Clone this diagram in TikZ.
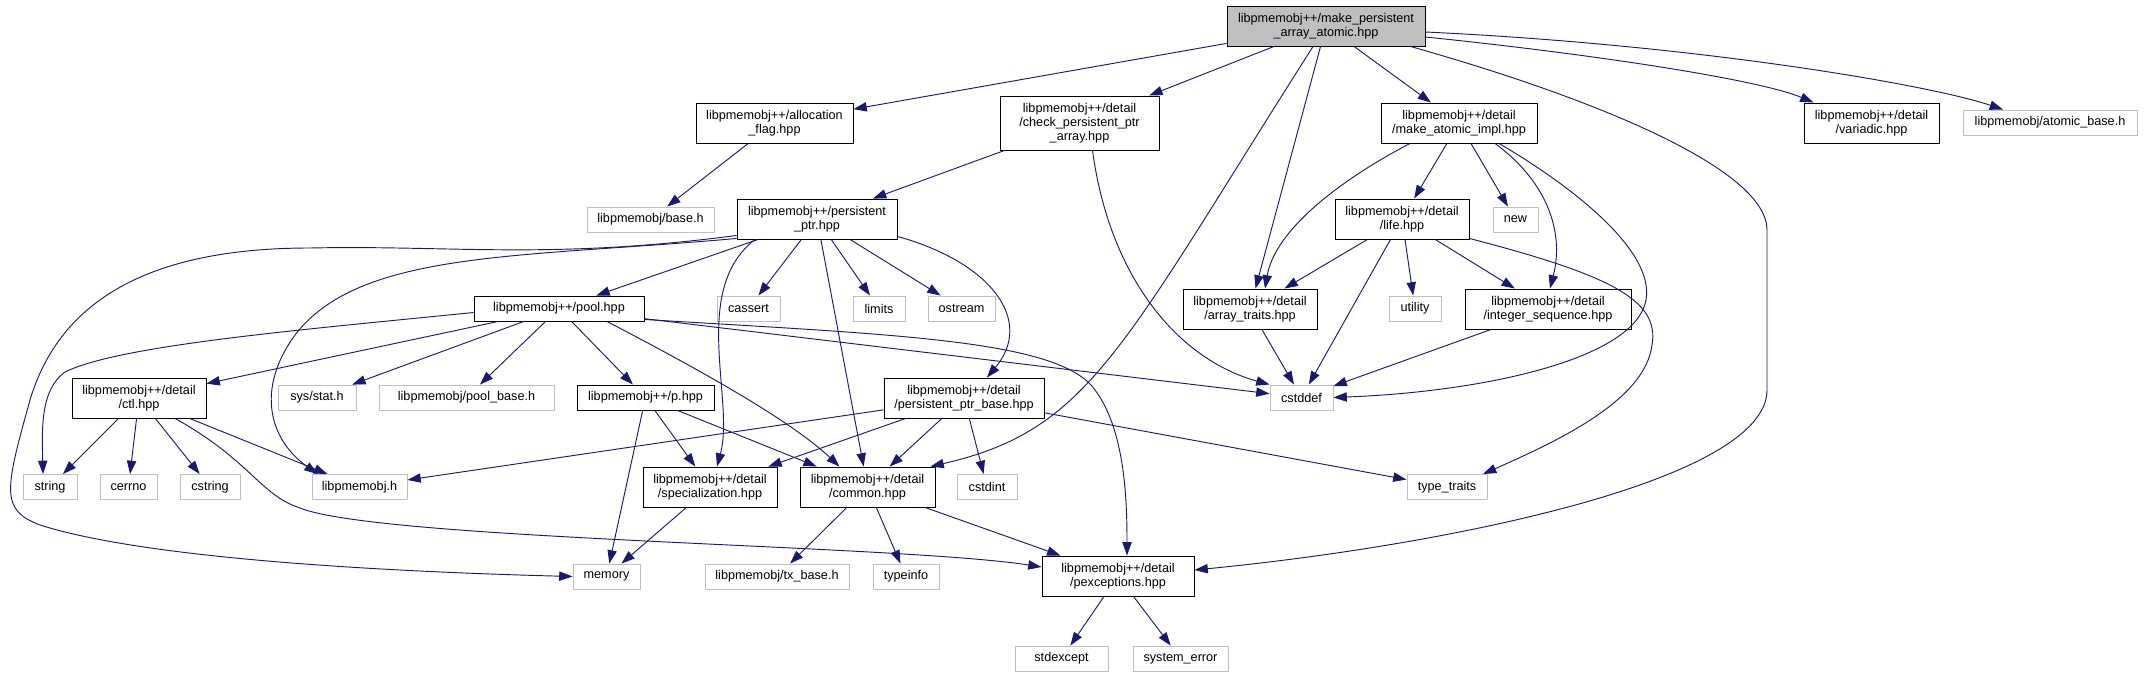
\documentclass[tikz,border=0pt]{standalone}
\usepackage{fontspec}
\setmainfont{Liberation Sans}
\usepackage{tikz}
\usetikzlibrary{calc, arrows.meta}
\usepackage{xcolor}
\definecolor{edgeblue}{RGB}{25, 25, 112}
\definecolor{extgray}{RGB}{191, 191, 191}

\tikzset{
  hfile/.style={rectangle, draw=black, fill=white, line width=0.7pt, inner sep=0pt,
    align=center, minimum height=18.75pt},
  sysfile/.style={hfile, draw=extgray},
  mainfile/.style={hfile, fill=extgray},
  l2/.style={minimum height=30pt},
  l3/.style={minimum height=40.5pt},
  bw/.style={minimum width=#1*0.75pt},
  dep/.style={->, draw=edgeblue, line width=0.7pt}
}

\begin{document}
\begin{tikzpicture}[x=0.75pt, y=-0.75pt, font=\fontsize{9.5}{10.7}\selectfont,
    >={Triangle[length=10pt, width=7pt]}]
  \useasboundingbox (0,0) rectangle (2154,677);

  % Row 0
  \node[mainfile, l2, bw=198] (root) at (1326,26) {libpmemobj++/make\_persistent\\\_array\_atomic.hpp};

  % Row 1
  \node[hfile, l2, bw=157] (alloc) at (774.5,123) {libpmemobj++/allocation\\\_flag.hpp};
  \node[hfile, l3, bw=159] (check) at (1079.5,123) {libpmemobj++/detail\\/check\_persistent\_ptr\\\_array.hpp};
  \node[hfile, l2, bw=156] (mkimpl) at (1459,123) {libpmemobj++/detail\\/make\_atomic\_impl.hpp};
  \node[hfile, l2, bw=135] (variadic) at (1871.5,123) {libpmemobj++/detail\\/variadic.hpp};
  \node[sysfile, bw=174] (atomicbase) at (2050,122.5) {libpmemobj/atomic\_base.h};

  % Row 2
  \node[sysfile, bw=127] (baseh) at (650.5,219.5) {libpmemobj/base.h};
  \node[hfile, l2, bw=160] (pptr) at (817,219) {libpmemobj++/persistent\\\_ptr.hpp};
  \node[hfile, l2, bw=134] (life) at (1402,219) {libpmemobj++/detail\\/life.hpp};
  \node[sysfile, bw=45] (new) at (1515.5,219.5) {new};

  % Row 3
  \node[hfile, bw=170] (pool) at (559,308.5) {libpmemobj++/pool.hpp};
  \node[sysfile, bw=63] (cassert) at (748.5,308.5) {cassert};
  \node[sysfile, bw=52] (limits) at (879,308.5) {limits};
  \node[sysfile, bw=67] (ostream) at (961.5,308.5) {ostream};
  \node[hfile, l2, bw=134] (arraytraits) at (1250,309) {libpmemobj++/detail\\/array\_traits.hpp};
  \node[sysfile, bw=52] (utility) at (1415,308.5) {utility};
  \node[hfile, l2, bw=166] (intseq) at (1548,309) {libpmemobj++/detail\\/integer\_sequence.hpp};

  % Row 4
  \node[hfile, l2, bw=134] (ctl) at (139,398) {libpmemobj++/detail\\/ctl.hpp};
  \node[sysfile, bw=78] (sysstat) at (317,397.5) {sys/stat.h};
  \node[sysfile, bw=175] (poolbase) at (466.5,397.5) {libpmemobj/pool\_base.h};
  \node[hfile, bw=137] (phpp) at (645.5,397.5) {libpmemobj++/p.hpp};
  \node[hfile, l2, bw=160] (pptrbase) at (964,398) {libpmemobj++/detail\\/persistent\_ptr\_base.hpp};
  \node[sysfile, bw=63] (cstddef) at (1301.5,397.5) {cstddef};

  % Row 5
  \node[sysfile, bw=54] (string) at (50,487) {string};
  \node[sysfile, bw=57] (cerrno) at (128.5,487) {cerrno};
  \node[sysfile, bw=60] (cstring) at (210,487) {cstring};
  \node[sysfile, bw=95] (libpmemobjh) at (359.5,487) {libpmemobj.h};
  \node[hfile, l2, bw=134] (spec) at (710,487) {libpmemobj++/detail\\/specialization.hpp};
  \node[hfile, l2, bw=135] (common) at (867.5,487) {libpmemobj++/detail\\/common.hpp};
  \node[sysfile, bw=60] (cstdint) at (987,487) {cstdint};
  \node[sysfile, bw=80] (typetraits) at (1447,487) {type\_traits};

  % Row 6
  \node[sysfile, bw=67] (memory) at (606.5,576.5) {memory};
  \node[sysfile, bw=144] (txbase) at (777,576.5) {libpmemobj/tx\_base.h};
  \node[sysfile, bw=66] (typeinfo) at (906,576.5) {typeinfo};
  \node[hfile, l2, bw=152] (pexc) at (1118,576) {libpmemobj++/detail\\/pexceptions.hpp};

  % Row 7
  \node[sysfile, bw=93] (stdexcept) at (1061.5,658.5) {stdexcept};
  \node[sysfile, bw=95] (syserr) at (1180.5,658.5) {system\_error};

  % Straight includes
  \foreach \a/\b in {root/alloc, root/check, root/arraytraits, root/mkimpl,
      alloc/baseh, check/pptr, mkimpl/life, mkimpl/new,
      life/arraytraits, life/cstddef, life/utility, life/intseq,
      arraytraits/cstddef, intseq/cstddef,
      pptr/pool, pptr/cassert, pptr/limits, pptr/ostream, pptr/common,
      pool/ctl, pool/sysstat, pool/poolbase, pool/phpp, pool/cstddef,
      ctl/string, ctl/cerrno, ctl/cstring, ctl/libpmemobjh,
      phpp/memory, phpp/spec, phpp/common,
      pptrbase/libpmemobjh, pptrbase/spec, pptrbase/common, pptrbase/cstdint, pptrbase/typetraits,
      spec/memory, common/txbase, common/typeinfo, common/pexc,
      pexc/stdexcept, pexc/syserr}
    \draw[dep] (\a) -- (\b);

  % Curved includes
  \draw[dep] ($(root.south)+(-13,0)$) .. controls (1120,350) and (1090,430) .. ($(common.north east)+(-5,0)$);
  \draw[dep] ($(root.south east)+(-15,0)$) .. controls (1600,100) and (1767,170) .. (1767,230)
    -- (1767,390) .. controls (1767,480) and (1450,545) .. ($(pexc.east)+(0,-6)$);
  \draw[dep] ($(root.east)+(0,11)$) .. controls (1600,55) and (1760,80) .. ($(variadic.north west)+(10,0)$);
  \draw[dep] ($(root.east)+(0,6)$) .. controls (1700,45) and (1930,85) .. ($(atomicbase.north)+(-47,0)$);
  \draw[dep] ($(check.south)+(13,0)$) .. controls (1110,280) and (1180,360) .. (cstddef.north west);
  \draw[dep] ($(mkimpl.south)+(-49,0)$) .. controls (1340,180) and (1275,230) .. ($(arraytraits.north)+(15,0)$);
  \draw[dep] ($(mkimpl.south)+(36,0)$) .. controls (1545,180) and (1565,230) .. ($(intseq.north)+(2,0)$);
  \draw[dep] ($(mkimpl.south)+(40,0)$) .. controls (1570,185) and (1655,250) .. (1646,300)
    .. controls (1635,360) and (1480,392) .. (cstddef.east);
  \draw[dep] ($(life.south east)+(0,-1)$) .. controls (1610,275) and (1660,300) .. (1652,345)
    .. controls (1645,400) and (1560,440) .. ($(typetraits.north)+(36,0)$);
  \draw[dep] ($(pptr.south)+(-62,0)$) .. controls (690,290) and (735,400) .. ($(spec.north)+(7,0)$);
  \draw[dep] ($(pptr.south east)+(0,-3)$) .. controls (990,262) and (1035,320) .. ($(pptrbase.north)+(23,0)$);
  \draw[dep] ($(pptr.south west)+(0,-4)$) .. controls (550,260) and (450,245) .. (310,248)
    .. controls (150,248) and (60,300) .. (30,400)
    .. controls (5,490) and (0,510) .. (40,525)
    .. controls (150,560) and (400,572) .. (memory.west);
  \draw[dep] ($(pptr.south west)+(0,-1)$) .. controls (520,258) and (360,250) .. (295,335)
    .. controls (255,390) and (270,440) .. ($(libpmemobjh.north)+(-42,0)$);
  \draw[dep] ($(pool.west)+(0,4)$) .. controls (300,330) and (120,345) .. (65,372)
    .. controls (40,390) and (42,430) .. ($(string.north)+(-7,0)$);
  \draw[dep] ($(pool.south)+(48,0)$) .. controls (700,370) and (790,420) .. ($(common.north)+(-28,0)$);
  \draw[dep] ($(pool.south east)+(0,-2)$) .. controls (900,335) and (1060,340) .. (1095,390)
    .. controls (1125,430) and (1127,500) .. ($(pexc.north)+(9,0)$);
  \draw[dep] ($(ctl.south)+(36,0)$) .. controls (250,460) and (260,495) .. (300,508)
    .. controls (380,540) and (900,545) .. ($(pexc.west)+(0,-9)$);
\end{tikzpicture}
\end{document}
